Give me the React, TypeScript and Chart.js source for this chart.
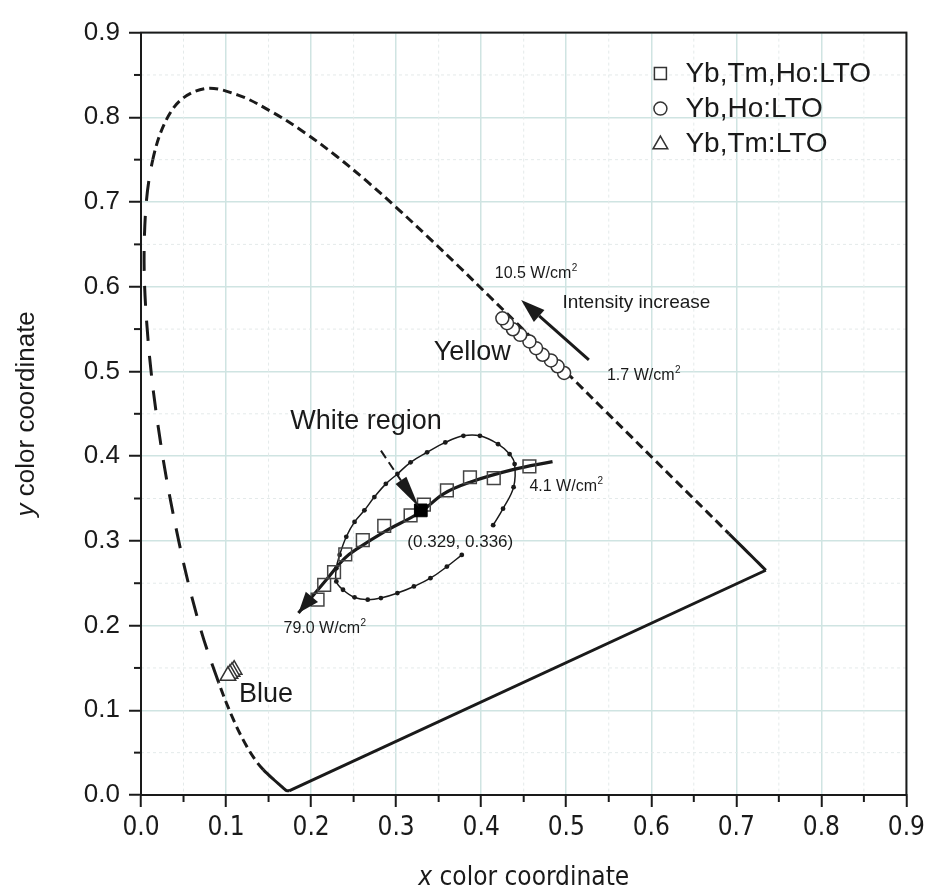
import React, { useEffect, useRef } from 'react';
import { Chart, registerables } from 'chart.js';

Chart.register(...registerables);

// ---------- tick labels ----------
const xTickLabels = ['0.0', '0.1', '0.2', '0.3', '0.4', '0.5', '0.6', '0.7', '0.8', '0.9'];
const yTickLabels = ['0.0', '0.1', '0.2', '0.3', '0.4', '0.5', '0.6', '0.7', '0.8', '0.9'];
const minorTickValues = [0.05, 0.15, 0.25, 0.35, 0.45, 0.55, 0.65, 0.75, 0.85];

// ---------- CIE 1931 spectral locus ----------
const locusWavelengths = [
  380, 420, 430, 440, 450, 460, 465, 470, 475, 480, 485, 490, 495, 500, 505, 510, 515, 520, 525, 530,
  535, 540, 545, 550, 555, 560, 565, 570, 575, 580, 585, 590, 595, 600, 605, 610, 615, 620, 630, 640,
  650, 700,
];
const locusX = [
  0.1741, 0.1714, 0.1689, 0.1644, 0.1566, 0.144, 0.1355, 0.1241, 0.1096, 0.0913, 0.0687, 0.0454, 0.0235, 0.0082,
  0.0039, 0.0139, 0.0389, 0.0743, 0.1142, 0.1547, 0.1929, 0.2296, 0.2658, 0.3016, 0.3373, 0.3731, 0.4087, 0.4441,
  0.4788, 0.5125, 0.5448, 0.5752, 0.6029, 0.627, 0.6482, 0.6658, 0.6801, 0.6915, 0.7079, 0.719, 0.726, 0.7347,
];
const locusY = [
  0.005, 0.0051, 0.0069, 0.0109, 0.0177, 0.0297, 0.0399, 0.0578, 0.0868, 0.1327, 0.2007, 0.295, 0.4127, 0.5384,
  0.6548, 0.7502, 0.812, 0.8338, 0.8262, 0.8059, 0.7816, 0.7543, 0.7243, 0.6923, 0.6589, 0.6245, 0.5896, 0.5547,
  0.5202, 0.4866, 0.4544, 0.4242, 0.3965, 0.3725, 0.3514, 0.334, 0.3197, 0.3083, 0.292, 0.2809, 0.274, 0.2653,
];
const purpleLine = [[0.7347, 0.2653], [0.1741, 0.005]];

// ---------- measured series ----------
const ybTmHoLTO = [
  [0.4567, 0.388], [0.4148, 0.374], [0.3868, 0.3751], [0.3597, 0.3595], [0.3326, 0.3427], [0.317, 0.3302],
  [0.286, 0.3177], [0.2608, 0.3009], [0.2402, 0.2841], [0.227, 0.263], [0.2154, 0.2481], [0.2076, 0.2306],
];
const whitePoint = [[0.329, 0.336]];
const ybHoLTO = [
  [0.4975, 0.4982], [0.4898, 0.5061], [0.482, 0.513], [0.4723, 0.5197], [0.4645, 0.5275],
  [0.4567, 0.5354], [0.4459, 0.5432], [0.4373, 0.5498], [0.4304, 0.5569], [0.4249, 0.5627],
];
const ybTmLTO = [[0.1095, 0.148], [0.107, 0.1455], [0.1046, 0.1431], [0.1022, 0.1407]];

// white-region boundary loop (dotted curve)
const whiteLoop = [
  [0.3772, 0.2834], [0.3597, 0.2696], [0.3403, 0.2559], [0.3209, 0.2462], [0.3015, 0.2384], [0.2821, 0.2325],
  [0.2666, 0.2306], [0.2511, 0.2333], [0.2375, 0.2423], [0.2297, 0.2521], [0.2297, 0.2677], [0.2336, 0.2834],
  [0.2414, 0.3048], [0.2511, 0.3224], [0.2627, 0.3361], [0.2744, 0.3517], [0.2879, 0.3673], [0.3015, 0.379],
  [0.317, 0.3927], [0.3364, 0.4045], [0.3578, 0.4162], [0.3791, 0.424], [0.3985, 0.424], [0.4199, 0.4142],
  [0.4334, 0.4025], [0.4393, 0.3907], [0.4381, 0.3634], [0.4257, 0.338], [0.4141, 0.3185],
];

// thick trend curve of Yb,Tm,Ho:LTO with increasing intensity
const trendCurve = [
  [0.4839, 0.3935], [0.4373, 0.3841], [0.3868, 0.3693], [0.3558, 0.3556], [0.3287, 0.3341],
  [0.286, 0.3107], [0.2549, 0.2911], [0.2394, 0.2794], [0.2162, 0.2521], [0.1851, 0.2149],
];

// arrows (tail, tip)
const intensityArrow = [[0.5266, 0.5138], [0.447, 0.5842]];
const whiteRegionArrow = [[0.2821, 0.4065], [0.3267, 0.34]];

const seriesNames = ['Yb,Tm,Ho:LTO', 'Yb,Ho:LTO', 'Yb,Tm:LTO'];

const FONT = '"Liberation Sans", Arial, Helvetica, sans-serif';
const NARROW = '"Liberation Sans Narrow", "Arial Narrow", "DejaVu Sans Condensed", "Liberation Sans", sans-serif';
const INK = '#1a1a1a';
const SHORT_DASH = [9, 5];
const LONG_DASH = [20, 15];

const pts = (a: number[][]) => a.map(([x, y]) => ({ x, y }));

function locusDash(wl: number) {
  if (wl < 460) return [];
  if (wl < 480) return SHORT_DASH;
  if (wl < 510) return LONG_DASH;
  if (wl < 620) return SHORT_DASH;
  return [];
}

function drawArrowHead(ctx: CanvasRenderingContext2D, fx: number, fy: number, tx: number, ty: number, len: number, wid: number) {
  const ang = Math.atan2(ty - fy, tx - fx);
  const bx = tx - Math.cos(ang) * len;
  const by = ty - Math.sin(ang) * len;
  const nx = Math.sin(ang) * wid / 2;
  const ny = -Math.cos(ang) * wid / 2;
  ctx.beginPath();
  ctx.moveTo(tx, ty);
  ctx.lineTo(bx + nx, by + ny);
  ctx.lineTo(bx - nx, by - ny);
  ctx.closePath();
  ctx.fill();
  return [bx, by];
}

function drawMarker(ctx: CanvasRenderingContext2D, kind: string, cx: number, cy: number) {
  ctx.save();
  ctx.fillStyle = '#fff';
  ctx.strokeStyle = '#333';
  ctx.lineWidth = 1.5;
  ctx.beginPath();
  if (kind === 'rect') {
    ctx.rect(cx - 6, cy - 6, 12, 12);
  } else if (kind === 'circle') {
    ctx.arc(cx, cy, 6.5, 0, Math.PI * 2);
  } else {
    const r = 8.5;
    ctx.moveTo(cx, cy - r);
    ctx.lineTo(cx + r * 0.866, cy + r * 0.5);
    ctx.lineTo(cx - r * 0.866, cy + r * 0.5);
    ctx.closePath();
  }
  ctx.fill();
  ctx.stroke();
  ctx.restore();
}

function textWithSup(ctx: CanvasRenderingContext2D, text: string, x: number, y: number, size: number) {
  ctx.font = `${size}px ${FONT}`;
  ctx.fillText(text, x, y);
  const w = ctx.measureText(text).width;
  ctx.font = `${Math.round(size * 0.62)}px ${FONT}`;
  ctx.fillText('2', x + w + 0.5, y - size * 0.42);
}

const extrasPlugin = {
  id: 'cieExtras',
  beforeDatasetsDraw(chart: any) {
    const { ctx, chartArea: a, scales } = chart;
    const sx = scales.x;
    const sy = scales.y;
    ctx.save();
    ctx.strokeStyle = '#e4eaea';
    ctx.lineWidth = 1;
    ctx.setLineDash([3, 3]);
    for (const v of minorTickValues) {
      const px = sx.getPixelForValue(v);
      ctx.beginPath();
      ctx.moveTo(px, a.top);
      ctx.lineTo(px, a.bottom);
      ctx.stroke();
      const py = sy.getPixelForValue(v);
      ctx.beginPath();
      ctx.moveTo(a.left, py);
      ctx.lineTo(a.right, py);
      ctx.stroke();
    }
    ctx.restore();
  },
  afterDraw(chart: any) {
    const { ctx, chartArea: a, scales } = chart;
    const sx = scales.x;
    const sy = scales.y;
    const P = (p: number[]) => [sx.getPixelForValue(p[0]), sy.getPixelForValue(p[1])];
    ctx.save();

    // frame
    ctx.strokeStyle = INK;
    ctx.lineWidth = 2;
    ctx.strokeRect(a.left, a.top, a.right - a.left, a.bottom - a.top);

    // minor ticks (outward)
    for (const v of minorTickValues) {
      const px = sx.getPixelForValue(v);
      ctx.beginPath();
      ctx.moveTo(px, a.bottom);
      ctx.lineTo(px, a.bottom + 7);
      ctx.stroke();
      const py = sy.getPixelForValue(v);
      ctx.beginPath();
      ctx.moveTo(a.left, py);
      ctx.lineTo(a.left - 7, py);
      ctx.stroke();
    }

    ctx.fillStyle = INK;
    ctx.strokeStyle = INK;

    // arrowhead of trend curve
    {
      const n = trendCurve.length;
      const [fx, fy] = P(trendCurve[n - 2]);
      const [tx, ty] = P(trendCurve[n - 1]);
      drawArrowHead(ctx, fx, fy, tx, ty, 21, 16);
    }

    // intensity arrow
    {
      const [fx, fy] = P(intensityArrow[0]);
      const [tx, ty] = P(intensityArrow[1]);
      const [bx, by] = drawArrowHead(ctx, fx, fy, tx, ty, 24, 16);
      ctx.lineWidth = 3;
      ctx.beginPath();
      ctx.moveTo(fx, fy);
      ctx.lineTo(bx, by);
      ctx.stroke();
    }

    // white region dashed arrow
    {
      const [fx, fy] = P(whiteRegionArrow[0]);
      const [tx, ty] = P(whiteRegionArrow[1]);
      const [bx, by] = drawArrowHead(ctx, fx, fy, tx, ty, 32, 13);
      ctx.lineWidth = 2;
      ctx.setLineDash([9, 5]);
      ctx.beginPath();
      ctx.moveTo(fx, fy);
      ctx.lineTo(bx, by);
      ctx.stroke();
      ctx.setLineDash([]);
    }

    // text annotations
    ctx.textAlign = 'left';
    ctx.textBaseline = 'alphabetic';
    const big = [
      { t: 'White region', p: [0.1754, 0.4318] },
      { t: 'Yellow', p: [0.3442, 0.5136] },
      { t: 'Blue', p: [0.1153, 0.1094] },
    ];
    ctx.font = `27px ${FONT}`;
    for (const b of big) {
      const [x, y] = P(b.p);
      ctx.fillText(b.t, x, y);
    }
    {
      ctx.font = `19px ${FONT}`;
      const [x, y] = P([0.4956, 0.5745]);
      ctx.fillText('Intensity increase', x, y);
    }
    {
      ctx.font = `17px ${FONT}`;
      const [x, y] = P([0.3132, 0.2931]);
      ctx.fillText('(0.329, 0.336)', x, y);
    }
    const units = [
      { t: '10.5 W/cm', p: [0.416, 0.6108] },
      { t: '1.7 W/cm', p: [0.5479, 0.4904] },
      { t: '4.1 W/cm', p: [0.4567, 0.3593] },
      { t: '79.0 W/cm', p: [0.1676, 0.1912] },
    ];
    for (const u of units) {
      const [x, y] = P(u.p);
      textWithSup(ctx, u.t, x, y, 16);
    }

    // legend
    const kinds = ['rect', 'circle', 'triangle'];
    ctx.font = `28px ${FONT}`;
    ctx.textBaseline = 'middle';
    for (let i = 0; i < seriesNames.length; i++) {
      const cy = a.top + 41 + i * 35;
      drawMarker(ctx, kinds[i], a.right - 246, cy + (kinds[i] === 'triangle' ? 1 : 0));
      ctx.fillStyle = INK;
      ctx.font = `28px ${FONT}`;
      ctx.fillText(seriesNames[i], a.right - 221, cy + 1);
    }

    // axis titles
    ctx.textBaseline = 'middle';
    {
      const cx = (a.left + a.right) / 2;
      const cy = 870;
      ctx.font = `italic 26px ${NARROW}`;
      const w1 = ctx.measureText('x').width;
      ctx.font = `26px ${NARROW}`;
      const w2 = ctx.measureText(' color coordinate').width;
      const start = cx - (w1 + w2) / 2;
      ctx.font = `italic 26px ${NARROW}`;
      ctx.fillText('x', start, cy);
      ctx.font = `26px ${NARROW}`;
      ctx.fillText(' color coordinate', start + w1, cy);
    }
    {
      const cy = (a.top + a.bottom) / 2;
      ctx.save();
      ctx.translate(19, cy);
      ctx.rotate(-Math.PI / 2);
      ctx.font = `italic 26px ${FONT}`;
      const w1 = ctx.measureText('y').width;
      ctx.font = `26px ${FONT}`;
      const w2 = ctx.measureText(' color coordinate').width;
      const start = -(w1 + w2) / 2;
      ctx.font = `italic 26px ${FONT}`;
      ctx.fillText('y', start, 0);
      ctx.font = `26px ${FONT}`;
      ctx.fillText(' color coordinate', start + w1, 0);
      ctx.restore();
    }

    ctx.restore();
  },
};

export default function App() {
  const canvasRef = useRef<HTMLCanvasElement | null>(null);

  useEffect(() => {
    const canvas = canvasRef.current;
    if (!canvas) return;

    const locusData = locusX.map((x, i) => ({ x, y: locusY[i] }));

    const datasets: any[] = [
      {
        label: 'white point',
        data: pts(whitePoint),
        pointStyle: 'rect',
        pointRadius: 9,
        pointBackgroundColor: '#000',
        pointBorderColor: '#000',
        pointBorderWidth: 1,
        showLine: false,
        order: 0,
      },
      {
        label: seriesNames[2],
        data: pts(ybTmLTO),
        pointStyle: 'triangle',
        pointRadius: 9,
        pointBackgroundColor: '#fff',
        pointBorderColor: '#333',
        pointBorderWidth: 1.5,
        showLine: false,
        order: 1,
      },
      {
        label: seriesNames[1],
        data: pts(ybHoLTO),
        pointStyle: 'circle',
        pointRadius: 6.5,
        pointBackgroundColor: '#fff',
        pointBorderColor: '#333',
        pointBorderWidth: 1.5,
        showLine: false,
        order: 2,
      },
      {
        label: seriesNames[0],
        data: pts(ybTmHoLTO),
        pointStyle: 'rect',
        pointRadius: 9,
        pointBackgroundColor: 'rgba(255,255,255,0)',
        pointBorderColor: '#444',
        pointBorderWidth: 1.5,
        showLine: false,
        order: 3,
      },
      {
        label: 'trend',
        data: pts(trendCurve),
        showLine: true,
        borderColor: INK,
        borderWidth: 3.2,
        pointRadius: 0,
        tension: 0.4,
        order: 4,
      },
      {
        label: 'white region boundary',
        data: pts(whiteLoop),
        showLine: true,
        borderColor: INK,
        borderWidth: 1.5,
        tension: 0.4,
        pointRadius: 2.4,
        pointBackgroundColor: INK,
        pointBorderColor: INK,
        pointBorderWidth: 0,
        order: 5,
      },
      {
        label: 'spectral locus',
        data: locusData,
        showLine: true,
        borderColor: INK,
        borderWidth: 3,
        pointRadius: 0,
        tension: 0.35,
        segment: {
          borderDash: (c: any) => locusDash(locusWavelengths[c.p0DataIndex]),
        },
        order: 6,
      },
      {
        label: 'purple line',
        data: pts(purpleLine),
        showLine: true,
        borderColor: INK,
        borderWidth: 3,
        pointRadius: 0,
        tension: 0,
        order: 7,
      },
    ];

    const chart = new Chart(canvas, {
      type: 'scatter',
      data: { datasets },
      options: {
        animation: false,
        responsive: false,
        devicePixelRatio: 1,
        events: [],
        layout: { padding: { top: 19, right: 17, left: 0, bottom: 0 } },
        plugins: {
          legend: { display: false },
          tooltip: { enabled: false },
          title: { display: false },
        },
        scales: {
          x: {
            type: 'linear',
            min: 0,
            max: 0.9,
            afterFit: (s: any) => {
              s.height = 101;
            },
            ticks: {
              stepSize: 0.1,
              autoSkip: false,
              maxRotation: 0,
              padding: 6,
              color: INK,
              font: { family: NARROW, size: 26 },
              callback: (_v: any, i: number) => xTickLabels[i],
            },
            grid: {
              color: '#cfe4e2',
              lineWidth: 1.5,
              tickLength: 12,
              tickColor: INK,
              tickWidth: 2,
            },
            border: { color: INK, width: 2 },
          },
          y: {
            type: 'linear',
            min: 0,
            max: 0.9,
            afterFit: (s: any) => {
              s.width = 133;
            },
            ticks: {
              stepSize: 0.1,
              autoSkip: false,
              padding: 9,
              color: INK,
              font: { family: FONT, size: 26 },
              callback: (_v: any, i: number) => yTickLabels[i],
            },
            grid: {
              color: '#cfe4e2',
              lineWidth: 1.5,
              tickLength: 12,
              tickColor: INK,
              tickWidth: 2,
            },
            border: { color: INK, width: 2 },
          },
        },
      } as any,
      plugins: [extrasPlugin],
    });

    return () => {
      chart.destroy();
    };
  }, []);

  return (
    <div style={{ width: 923, height: 888 }}>
      <canvas ref={canvasRef} width={923} height={888} style={{ display: 'block' }} />
    </div>
  );
}
